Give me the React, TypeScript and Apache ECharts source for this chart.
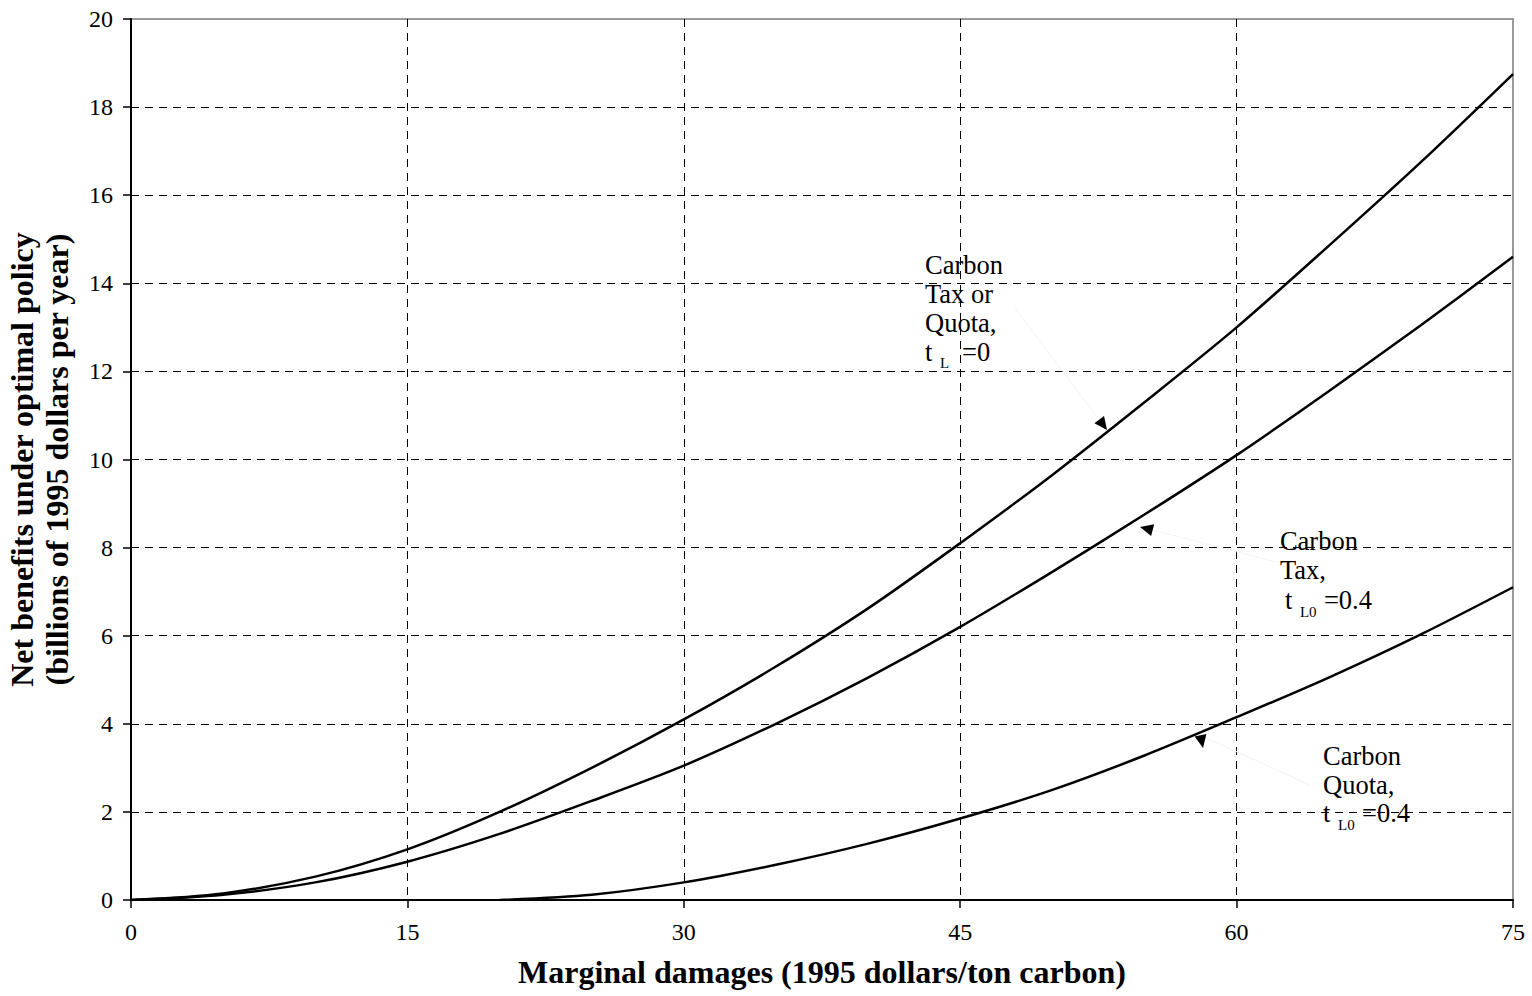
import React, { useEffect, useRef } from "react";
import * as echarts from "echarts";

// ---- Data ----
const xValues = [0, 5, 10, 15, 20, 25, 30, 35, 40, 45, 50, 55, 60, 65, 70, 75];
const taxOrQuotaTL0 = [0, 0.15, 0.53, 1.15, 2.0, 3.0, 4.1, 5.3, 6.62, 8.1, 9.65, 11.3, 13.0, 14.85, 16.75, 18.75];
const carbonTaxTL04 = [0, 0.12, 0.4, 0.87, 1.5, 2.25, 3.05, 4.0, 5.05, 6.2, 7.45, 8.75, 10.1, 11.55, 13.05, 14.6];
const quotaX = [20, 25, 30, 35, 40, 45, 50, 55, 60, 65, 70, 75];
const carbonQuotaTL04 = [0, 0.12, 0.4, 0.8, 1.28, 1.85, 2.5, 3.28, 4.15, 5.05, 6.03, 7.1];

// Annotation anchors in data coordinates [x, y]
const label1Anchor = [43.09, 14.42];
const label2Anchor = [62.35, 8.15];
const label3Anchor = [64.69, 3.27];
// arrows: [tailX, tailY, tipX, tipY]
const arrow1 = [47.97, 13.44, 52.97, 10.67];
const arrow2 = [62.19, 7.67, 54.76, 8.47];
const arrow3 = [63.98, 2.61, 58.18, 3.45];

const FONT = "'Liberation Serif', 'Times New Roman', serif";

export default function App() {
  const ref = useRef<HTMLDivElement>(null);
  useEffect(() => {
    if (!ref.current) return;
    const chart = echarts.init(ref.current, null, { renderer: "svg" });
    const lineStyle = { color: "#000", width: 2.5 };
    chart.setOption({
      animation: false,
      backgroundColor: "#fff",
      grid: {
        left: 131,
        right: 19,
        top: 19,
        bottom: 96,
        show: true,
        borderColor: "#999",
        borderWidth: 2,
        containLabel: false,
        outerBoundsMode: "none",
      },
      xAxis: {
        type: "value",
        min: 0,
        max: 75,
        interval: 15,
        name: "Marginal damages (1995 dollars/ton carbon)",
        nameLocation: "middle",
        nameGap: 56,
        nameTextStyle: { fontFamily: FONT, fontWeight: "bold", fontSize: 32, color: "#000" },
        axisLine: { show: true, lineStyle: { color: "#000", width: 2 } },
        axisTick: { show: true, length: 8, lineStyle: { color: "#000", width: 1.5 } },
        axisLabel: { fontFamily: FONT, fontSize: 24, color: "#000", margin: 20 },
        splitLine: {
          show: true,
          showMinLine: false,
          showMaxLine: false,
          lineStyle: { color: "#000", type: [8, 6], width: 1 },
        },
      },
      yAxis: {
        type: "value",
        min: 0,
        max: 20,
        interval: 2,
        name: "Net benefits under optimal policy\n(billions of 1995 dollars per year)",
        nameLocation: "middle",
        nameRotate: 90,
        nameGap: 57,
        nameTextStyle: { fontFamily: FONT, fontWeight: "bold", fontSize: 32, color: "#000", lineHeight: 35 },
        axisLine: { show: true, lineStyle: { color: "#000", width: 2 } },
        axisTick: { show: true, length: 8, lineStyle: { color: "#000", width: 1.5 } },
        axisLabel: { fontFamily: FONT, fontSize: 24, color: "#000", margin: 18 },
        splitLine: {
          show: true,
          showMinLine: false,
          showMaxLine: false,
          lineStyle: { color: "#000", type: [8, 6], width: 1 },
        },
      },
      series: [
        {
          name: "Carbon Tax or Quota, tL=0",
          type: "line",
          data: xValues.map((x, i) => [x, taxOrQuotaTL0[i]]),
          smooth: 0.3,
          showSymbol: false,
          lineStyle,
        },
        {
          name: "Carbon Tax, tL0=0.4",
          type: "line",
          data: xValues.map((x, i) => [x, carbonTaxTL04[i]]),
          smooth: 0.3,
          showSymbol: false,
          lineStyle,
        },
        {
          name: "Carbon Quota, tL0=0.4",
          type: "line",
          data: quotaX.map((x, i) => [x, carbonQuotaTL04[i]]),
          smooth: 0.3,
          showSymbol: false,
          lineStyle,
        },
      ],
    });

    const px = (p: number[]) => chart.convertToPixel({ gridIndex: 0 }, p) as number[];
    const txt = (text: string, x: number, y: number, size = 26.5) => ({
      type: "text",
      x,
      y,
      style: { text, fontFamily: FONT, fontSize: size, fill: "#000", align: "left", verticalAlign: "middle" },
    });
    const arrow = (a: number[], dir?: number[]) => {
      const t = px([a[0], a[1]]);
      const h = px([a[2], a[3]]);
      let dx = dir ? dir[0] : h[0] - t[0];
      let dy = dir ? dir[1] : h[1] - t[1];
      const len = Math.hypot(dx, dy);
      dx /= len;
      dy /= len;
      const L = 13, W = 6;
      const bx = h[0] - dx * L, by = h[1] - dy * L;
      return [
        { type: "line", shape: { x1: t[0], y1: t[1], x2: bx, y2: by }, style: { stroke: "#f3f3f3", lineWidth: 1 } },
        {
          type: "polygon",
          shape: { points: [[h[0], h[1]], [bx - dy * W, by + dx * W], [bx + dy * W, by - dx * W]] },
          style: { fill: "#000" },
        },
      ];
    };

    const a1 = px(label1Anchor);
    const a2 = px(label2Anchor);
    const a3 = px(label3Anchor);
    const graphic: any[] = [
      txt("Carbon", a1[0], a1[1]),
      txt("Tax or", a1[0], a1[1] + 29),
      txt("Quota,", a1[0], a1[1] + 58),
      txt("t", a1[0], a1[1] + 87),
      txt("L", a1[0] + 15, a1[1] + 98, 15),
      txt("=0", a1[0] + 37, a1[1] + 87),

      txt("Carbon", a2[0], a2[1]),
      txt("Tax,", a2[0], a2[1] + 29),
      txt("t", a2[0] + 5, a2[1] + 59),
      txt("L0", a2[0] + 20, a2[1] + 71, 15),
      txt("=0.4", a2[0] + 44, a2[1] + 59),

      txt("Carbon", a3[0], a3[1]),
      txt("Quota,", a3[0], a3[1] + 29),
      txt("t", a3[0], a3[1] + 57),
      txt("L0", a3[0] + 15, a3[1] + 69, 15),
      txt("=0.4", a3[0] + 39, a3[1] + 57),

      ...arrow(arrow1),
      ...arrow(arrow2),
      ...arrow(arrow3, [0.2, 1]),
    ];
    chart.setOption({ graphic });

    return () => chart.dispose();
  }, []);
  return (
    <div
      ref={ref}
      style={{ position: "fixed", left: 0, top: 0, width: 1532, height: 996, background: "#fff" }}
    />
  );
}
